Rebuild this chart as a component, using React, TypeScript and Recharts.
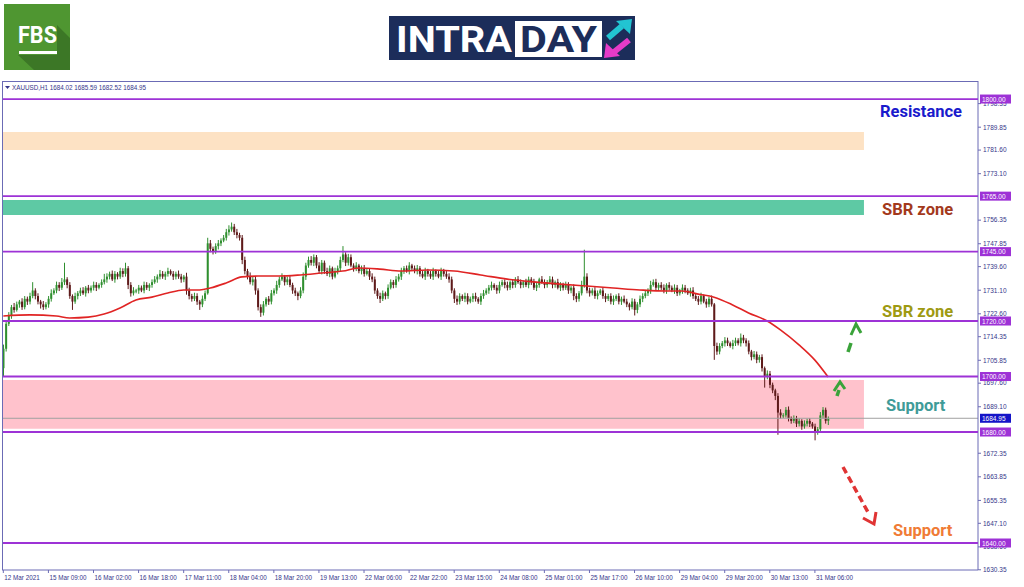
import { ComposedChart, Bar, Line, XAxis, YAxis, ReferenceLine, ReferenceArea } from 'recharts'

// XAUUSD H1 closes, one per bar (12 Mar 2021 -> 31 Mar 2021)
const closes = [
  1710, 1719, 1722, 1725, 1724, 1726, 1727, 1725, 1728, 1727,
  1729, 1731, 1729, 1727, 1726, 1725, 1726, 1728, 1730, 1731,
  1733, 1732, 1734, 1735, 1733, 1729, 1727, 1729, 1730, 1731,
  1730, 1732, 1731, 1732, 1733, 1732, 1733, 1734, 1735, 1736,
  1737, 1735, 1737, 1736, 1738, 1737, 1739, 1733, 1730, 1731,
  1731, 1732, 1731, 1733, 1732, 1733, 1734, 1735, 1736, 1737,
  1736, 1737, 1738, 1737, 1736, 1737, 1736, 1735, 1736, 1731,
  1729, 1728, 1729, 1727, 1726, 1728, 1730, 1748, 1746, 1745,
  1747, 1748, 1749, 1750, 1752, 1753, 1754, 1752, 1751, 1750,
  1742, 1738, 1736, 1734, 1735, 1731, 1725, 1723, 1726, 1728,
  1727, 1730, 1731, 1733, 1735, 1736, 1734, 1735, 1733, 1731,
  1730, 1729, 1731, 1736, 1740, 1742, 1741, 1743, 1740, 1738,
  1741, 1738, 1737, 1739, 1736, 1738, 1739, 1742, 1744, 1741,
  1743, 1740, 1739, 1740, 1738, 1739, 1737, 1738, 1736, 1735,
  1731, 1729, 1728, 1730, 1729, 1732, 1734, 1733, 1735, 1736,
  1738, 1739, 1738, 1740, 1739, 1738, 1739, 1737, 1736, 1738,
  1737, 1736, 1738, 1737, 1736, 1738, 1737, 1736, 1735, 1731,
  1728, 1727, 1729, 1728, 1729, 1727, 1728, 1729, 1728, 1727,
  1729, 1730, 1731, 1732, 1733, 1732, 1731, 1733, 1734, 1733,
  1732, 1734, 1733, 1735, 1734, 1733, 1734, 1733, 1735, 1734,
  1732, 1733, 1735, 1734, 1733, 1734, 1735, 1733, 1734, 1732,
  1733, 1732, 1733, 1731, 1732, 1729, 1728, 1730, 1733, 1736,
  1731, 1730, 1731, 1729, 1730, 1731, 1729, 1728, 1729, 1727,
  1728, 1729, 1727, 1728, 1727, 1726, 1725, 1727, 1724, 1726,
  1728, 1729, 1730, 1731, 1733, 1734, 1732, 1733, 1732, 1731,
  1733, 1732, 1731, 1732, 1730, 1731, 1732, 1731, 1730, 1731,
  1729, 1728, 1727, 1729, 1727, 1726, 1728, 1726, 1711, 1709,
  1711, 1712, 1713, 1712, 1711, 1712, 1713, 1712, 1714, 1713,
  1712, 1709, 1707, 1708, 1706, 1707, 1703, 1700, 1701, 1697,
  1695, 1693, 1687, 1686, 1686, 1688, 1685, 1684, 1685, 1683,
  1684, 1682, 1683, 1684, 1683, 1682, 1680, 1681, 1686, 1688,
  1684.02, 1684.95,
]
const firstOpen = 1703

// wick length above / below the body of each bar
const upperWick = [
  1.5, 1, 1.2, 0.8, 1.5, 1, 0.6, 1.2, 1, 0.8,
  1.2, 3, 0.8, 1, 0.6, 1.2, 0.8, 1, 1.4, 0.8,
  1.2, 1, 1.5, 6, 0.8, 1, 0.6, 1.2, 0.8, 1,
  1.2, 0.6, 1, 0.8, 1.2, 1, 0.6, 1, 2, 1.2,
  0.8, 1.2, 1, 0.6, 1.2, 1, 2, 0.8, 1, 1.2,
  0.6, 1, 0.8, 1.2, 1, 0.6, 1, 1.2, 0.8, 1.4,
  1, 0.8, 1.2, 0.6, 1, 0.8, 1.2, 1, 0.6, 1.4,
  1, 0.8, 1.2, 1, 0.6, 1.2, 1, 2, 1.2, 0.8,
  1, 1.2, 0.8, 1, 1.2, 1.5, 1.5, 1, 1.2, 0.8,
  1, 1.2, 0.8, 1.5, 1, 1.2, 0.8, 1, 1.2, 0.6,
  1, 1.2, 0.8, 1.5, 1, 1.2, 0.6, 1, 1.2, 0.8,
  1, 0.6, 1.2, 1.5, 1, 1.2, 1.4, 1, 0.8, 1.2,
  1, 0.8, 1.2, 1, 0.6, 1.2, 1, 1.2, 3, 0.8,
  1.2, 1, 0.8, 1.2, 0.6, 1, 1.2, 0.8, 1, 1.2,
  1, 0.8, 1.2, 1, 0.6, 1.2, 1, 0.8, 1.2, 1,
  1.2, 0.8, 1, 1.2, 0.6, 1, 1.2, 0.8, 1, 1.2,
  0.8, 1, 1.2, 0.6, 1, 1.2, 0.8, 1, 1.2, 1,
  0.8, 1.2, 1, 0.6, 1.2, 1, 0.8, 1, 1.2, 0.6,
  1, 1.2, 0.8, 1, 1.2, 0.6, 1, 1.2, 0.8, 1,
  1.2, 0.6, 1, 0.8, 1.2, 1, 0.6, 1.2, 1, 0.8,
  1.2, 1, 0.6, 1.2, 1, 0.8, 1.2, 1, 0.6, 1.2,
  1, 0.8, 1.2, 1, 0.6, 1.2, 1, 0.8, 1.5, 9.7,
  1.2, 1, 0.8, 1.2, 1, 0.6, 1.2, 1, 0.8, 1,
  1.2, 0.6, 1, 0.8, 1.2, 1, 0.6, 1.2, 1, 0.8,
  1.2, 1, 1.2, 0.8, 1.5, 1, 1.2, 0.8, 1, 1.2,
  0.6, 1, 0.8, 1.2, 1, 0.6, 1.2, 1, 0.8, 1,
  1.2, 0.8, 1, 1.2, 0.6, 1, 0.8, 1.2, 0.5, 1.2,
  1, 0.8, 1.2, 1, 0.6, 1.2, 1, 0.8, 1.5, 1,
  0.8, 1, 0.6, 1.2, 1, 0.8, 1, 0.6, 1.2, 1,
  0.8, 0.6, 1, 1.2, 0.8, 1, 1.2, 0.6, 1, 0.8,
  1, 0.6, 1.2, 0.8, 1, 0.6, 1, 0.8, 1.2, 1,
  0.8, 0.64,
]
const lowerWick = [
  3, 1, 0.8, 1.2, 1, 0.6, 1.2, 1, 0.8, 1.2,
  1, 0.8, 1.2, 1, 1.5, 1, 0.8, 1.2, 1, 0.6,
  1, 1.2, 0.8, 1, 1.2, 1, 3, 0.8, 1.2, 1,
  0.6, 1.2, 1, 0.8, 1, 1.2, 0.6, 1, 0.8, 1.2,
  1, 0.6, 1.2, 1, 0.8, 1.2, 1, 1.5, 1.2, 0.8,
  1, 1.2, 0.6, 1, 0.8, 1.2, 1, 0.6, 1.2, 1,
  0.8, 1.2, 1, 0.6, 1.2, 1, 0.8, 1.2, 1, 1.5,
  1.2, 1, 0.8, 1.2, 2, 1, 0.8, 0.5, 1.2, 1,
  0.8, 1.2, 1, 0.6, 1, 1.2, 0.8, 1, 1.2, 1,
  1.5, 1.2, 1, 0.8, 1.2, 1.5, 1.2, 1.5, 1, 0.8,
  1.2, 1, 0.8, 1.2, 1, 0.6, 1.2, 1, 0.8, 1.2,
  1, 1.5, 0.8, 1, 1.2, 0.8, 1, 1.2, 1, 0.8,
  1.2, 1, 0.8, 1.2, 1, 0.6, 1.2, 1, 0.8, 1.2,
  1, 0.6, 1.2, 1, 0.8, 1.2, 1, 0.6, 1.2, 1,
  1.2, 1, 1.5, 0.8, 1.2, 1, 0.6, 1.2, 1, 0.8,
  1.2, 1, 0.6, 1.2, 1, 0.8, 1.2, 1, 0.6, 1.2,
  1, 0.8, 1.2, 1, 0.6, 1.2, 1, 0.8, 1.2, 1,
  1.5, 1.2, 1, 0.8, 1.2, 1, 0.6, 1.2, 1, 0.8,
  1.2, 1, 0.6, 1.2, 1, 0.8, 1.2, 1, 0.6, 1.2,
  1, 0.8, 1.2, 1, 0.6, 1.2, 1, 0.8, 1.2, 1,
  0.8, 1.2, 1, 0.6, 1.2, 1, 0.8, 1.2, 1, 0.6,
  1.2, 1, 0.8, 1.2, 1, 1.5, 1.2, 1, 0.8, 1,
  1, 1.2, 0.8, 1, 1.2, 0.6, 1, 1.2, 0.8, 1,
  1.2, 0.8, 1, 1.2, 0.6, 1, 1.2, 0.8, 2, 1.2,
  1, 1.2, 0.8, 1, 1.2, 0.6, 1, 1.2, 0.8, 1,
  1.2, 1, 0.6, 1.2, 1, 0.8, 1.2, 1, 0.6, 1.2,
  1, 0.8, 1.2, 1, 0.6, 1.2, 1, 0.8, 5, 1.2,
  1, 0.8, 1.2, 1, 0.6, 1.2, 1, 0.8, 1.2, 1,
  1.2, 1, 1.2, 0.8, 1.2, 1, 1.2, 4, 1, 1.2,
  1, 1.5, 8, 1.2, 1, 0.8, 1.2, 1, 0.8, 1.2,
  1, 1.2, 0.8, 1, 1.2, 0.8, 3, 1, 0.8, 1.2,
  1, 1.5,
]

// moving average, at these bars
const maBars = [0, 10, 20, 25, 32, 38, 44, 50, 56, 62, 68, 74, 78, 84, 90, 96, 104, 112, 120, 128, 134, 142, 150, 160, 170, 180, 190, 200, 210, 220, 230, 240, 250, 256, 262, 268, 275, 281, 288, 293, 300, 306, 311]
const maValues = [1721.8, 1722.2, 1721.8, 1721.1, 1721.4, 1722.5, 1724.7, 1727.6, 1728.6, 1730.1, 1731.2, 1731.2, 1731.9, 1733.7, 1735.9, 1736.2, 1736.2, 1736.6, 1737.3, 1738.0, 1739.1, 1738.7, 1738.0, 1738.4, 1738.0, 1736.6, 1735.1, 1734.1, 1733.3, 1732.6, 1731.9, 1731.2, 1730.8, 1730.8, 1729.7, 1728.6, 1725.8, 1722.9, 1720.0, 1716.8, 1711.4, 1705.9, 1699.8]

const timeLabels = ['12 Mar 2021', '15 Mar 09:00', '16 Mar 02:00', '16 Mar 18:00', '17 Mar 11:00', '18 Mar 04:00', '18 Mar 20:00', '19 Mar 13:00', '22 Mar 06:00', '22 Mar 22:00', '23 Mar 15:00', '24 Mar 08:00', '25 Mar 01:00', '25 Mar 17:00', '26 Mar 10:00', '29 Mar 04:00', '29 Mar 20:00', '30 Mar 13:00', '31 Mar 06:00']
const LABEL_STEP = 17
const TOTAL_SLOTS = 368 // bars + empty chart shift on the right

const levels = [1800, 1765, 1745, 1720, 1700, 1680, 1640]
const lastPrice = 1684.95
const zoneTops = [1788.1, 1763.6, 1698.7]
const zoneBottoms = [1781.6, 1758.2, 1681.2]
const ZONE_END = 324
const yTicks = [1798.35, 1789.85, 1781.6, 1773.1, 1756.35, 1747.85, 1739.6, 1731.1, 1722.6, 1714.35, 1705.85, 1697.6, 1689.1, 1672.35, 1663.85, 1655.35, 1647.1, 1638.6, 1630.35]
const Y_DOMAIN = [1630.27, 1806.5]

const ZONE_COLORS = ['#fde2c4', '#5ec9a4', '#ffc2cc']
const BULL = '#2f8f2f'
const BEAR = '#5e1a1a'
const MA_COLOR = '#e02424'
const LEVEL = '#9d32d6'
const FRAME = '#6b6bb5'
const AXIS_TEXT = '#36368a'
const AXIS_FONT = '"Liberation Sans", Arial, sans-serif'
const MARGIN = { top: 81, right: 0, bottom: 0, left: 2 }

const rows = Array.from({ length: TOTAL_SLOTS }, (_, i) => {
  const row: any = { i }
  if (i < closes.length) {
    const open = i === 0 ? firstOpen : closes[i - 1]
    const close = closes[i]
    const high = Math.max(open, close) + upperWick[i]
    const low = Math.min(open, close) - lowerWick[i]
    Object.assign(row, { open, close, high, low, range: [low, high] })
  }
  const k = maBars.indexOf(i)
  if (k >= 0) row.ma = maValues[k]
  return row
})
const lastBar = rows[closes.length - 1]

function Candle(props: any) {
  const { x, y, width, height, payload } = props
  if (!payload || payload.close == null) return null
  const { open, close, high, low } = payload
  const top = Math.min(y, y + height)
  const h = Math.abs(height)
  const ppu = h / (high - low)
  const cx = x + width / 2
  const bTop = top + (high - Math.max(open, close)) * ppu
  const bBot = top + (high - Math.min(open, close)) * ppu
  const color = close >= open ? BULL : BEAR
  return (
    <g>
      <line x1={cx} x2={cx} y1={top} y2={top + h} stroke={color} strokeWidth={1} />
      <rect x={cx - 1} y={bTop} width={2} height={Math.max(1, bBot - bTop)} fill={color} />
    </g>
  )
}

function TimeTick(props: any) {
  const { x, y, payload } = props
  const label = timeLabels[payload.value / LABEL_STEP]
  if (!label) return null
  return (
    <g>
      <line x1={x} x2={x} y1={y - 3} y2={y} stroke={FRAME} />
      <text x={x + 1} y={y + 7} fontSize={6.3} fill={AXIS_TEXT} fontFamily={AXIS_FONT}>
        {label}
      </text>
    </g>
  )
}

function PriceTag({ viewBox, value, color }: any) {
  if (!viewBox) return null
  const x = viewBox.x + viewBox.width + 2
  const y = viewBox.y
  return (
    <g>
      <rect x={x} y={y - 4.5} width={31} height={9} fill={color} />
      <text x={x + 2} y={y + 2.5} fontSize={6.5} fill="#fff" fontFamily={AXIS_FONT}>
        {value.toFixed(2)}
      </text>
    </g>
  )
}

function FbsLogo() {
  return (
    <svg width={66} height={66} style={{ position: 'absolute', left: 4, top: 4 }}>
      <rect width={66} height={66} fill="#4f9631" />
      <polygon points="53,21 66,34 66,66 30,66 14,51 53,51" fill="#3c7726" />
      <text x={14} y={39} fontSize={23} fontWeight={700} fill="#fff" fontFamily="Roboto, sans-serif" textLength={39} lengthAdjust="spacingAndGlyphs">
        FBS
      </text>
      <rect x={15} y={47} width={38} height={3} fill="#fff" />
    </svg>
  )
}

function IntradayLogo() {
  return (
    <svg width={246} height={44} style={{ position: 'absolute', left: 389, top: 16 }}>
      <rect width={246} height={44} fill="#1c2d5a" />
      <text x={7} y={36} fontSize={36} fontWeight={700} fill="#fff" fontFamily="Roboto, sans-serif" textLength={116} lengthAdjust="spacingAndGlyphs">
        INTRA
      </text>
      <rect x={126} y={5} width={87} height={36} fill="#fff" />
      <text x={131} y={36} fontSize={36} fontWeight={700} fill="#1c2d5a" fontFamily="Roboto, sans-serif" textLength={77} lengthAdjust="spacingAndGlyphs">
        DAY
      </text>
      <line x1={219} y1={22} x2={233} y2={10} stroke="#22c4d2" strokeWidth={6} />
      <polygon points="243,3 227,5 241,18" fill="#22c4d2" />
      <line x1={240} y1={24} x2={225} y2={36} stroke="#e63bc8" strokeWidth={6} />
      <polygon points="215,42 231,40 217,27" fill="#e63bc8" />
    </svg>
  )
}

const notes = [
  { text: 'Resistance', x: 880, y: 117, color: '#1a1acc' },
  { text: 'SBR zone', x: 882, y: 215, color: '#a3391c' },
  { text: 'SBR zone', x: 882, y: 317, color: '#9e9a12' },
  { text: 'Support', x: 886, y: 411, color: '#3f9b98' },
  { text: 'Support', x: 893, y: 536, color: '#f07b35' },
]

function Annotations() {
  return (
    <svg width={1024} height={587} style={{ position: 'absolute', left: 0, top: 0, pointerEvents: 'none' }}>
      {notes.map((n, k) => (
        <text key={k} x={n.x} y={n.y} fontSize={16.5} fontWeight={700} fill={n.color} fontFamily="Roboto, sans-serif">
          {n.text}
        </text>
      ))}
      {/* green up arrows */}
      <line x1={848} y1={352} x2={851} y2={343} stroke="#3aa33a" strokeWidth={3.5} />
      <polyline points="851,335 856,324 861,333" fill="none" stroke="#3aa33a" strokeWidth={3} />
      <line x1={837} y1={396} x2={839} y2={390} stroke="#3aa33a" strokeWidth={3.5} />
      <polyline points="834,391 840,382 845,389" fill="none" stroke="#3aa33a" strokeWidth={3} />
      {/* red down arrow */}
      <line x1={843} y1={467} x2={869} y2={514} stroke="#e03434" strokeWidth={3.5} strokeDasharray="7 4" />
      <polyline points="863,518 874,524 876,512" fill="none" stroke="#e03434" strokeWidth={3} />
      {/* header */}
      <polygon points="5,86 10,86 7.5,89" fill={AXIS_TEXT} />
      <text x={12} y={90} fontSize={6.3} fill={AXIS_TEXT} fontFamily={AXIS_FONT}>
        {`XAUUSD,H1  ${lastBar.open.toFixed(2)} ${lastBar.high.toFixed(2)} ${lastBar.low.toFixed(2)} ${lastBar.close.toFixed(2)}`}
      </text>
    </svg>
  )
}

// second chart with the same scales, drawn on top, so the level tags cover the axis ticks
function LevelsLayer() {
  return (
    <div style={{ position: 'absolute', left: 0, top: 0, pointerEvents: 'none' }}>
      <ComposedChart width={1024} height={587} data={rows} margin={MARGIN}>
        <XAxis dataKey="i" height={17} tick={false} tickLine={false} axisLine={false} />
        <YAxis orientation="right" width={46} type="number" domain={Y_DOMAIN} allowDataOverflow tick={false} tickLine={false} axisLine={false} />
        {levels.map((lvl) => (
          <ReferenceLine
            key={lvl}
            y={lvl}
            stroke={LEVEL}
            strokeWidth={1.8}
            label={(p: any) => <PriceTag viewBox={p.viewBox} value={lvl} color={LEVEL} />}
          />
        ))}
        <ReferenceLine
          y={lastPrice}
          stroke="none"
          label={(p: any) => <PriceTag viewBox={p.viewBox} value={lastPrice} color="#1414c8" />}
        />
      </ComposedChart>
    </div>
  )
}

export default function App() {
  return (
    <div style={{ position: 'relative', width: 1024, height: 587, background: '#fff', overflow: 'hidden' }}>
      <style>{'body{margin:0}'}</style>
      <ComposedChart width={1024} height={587} data={rows} margin={MARGIN} barCategoryGap={0} barGap={0}>
        <XAxis
          dataKey="i"
          interval={LABEL_STEP - 1}
          height={17}
          tickSize={3}
          tickMargin={0}
          tickLine={false}
          axisLine={{ stroke: FRAME }}
          tick={<TimeTick />}
        />
        <YAxis
          orientation="right"
          width={46}
          type="number"
          domain={Y_DOMAIN}
          allowDataOverflow
          ticks={yTicks}
          interval={0}
          tickSize={3}
          tickMargin={2}
          tickLine={{ stroke: FRAME }}
          axisLine={{ stroke: FRAME }}
          tickFormatter={(v: number) => v.toFixed(2)}
          tick={{ fontSize: 6.5, fill: AXIS_TEXT, fontFamily: AXIS_FONT }}
        />
        {zoneTops.map((top, k) => (
          <ReferenceArea key={k} x1={0} x2={ZONE_END} y1={zoneBottoms[k]} y2={top} fill={ZONE_COLORS[k]} fillOpacity={1} stroke="none" />
        ))}
        <ReferenceLine y={lastPrice} stroke="#a0a0a0" strokeWidth={1} />
        <Bar dataKey="range" shape={(p: any) => <Candle {...p} />} isAnimationActive={false} />
        <Line dataKey="ma" type="monotone" stroke={MA_COLOR} strokeWidth={1.6} dot={false} connectNulls isAnimationActive={false} />
      </ComposedChart>
      <LevelsLayer />
      <div
        style={{
          position: 'absolute',
          left: 2,
          top: 81,
          width: 976,
          height: 489,
          borderLeft: `1px solid ${FRAME}`,
          borderTop: `1px solid ${FRAME}`,
          boxSizing: 'border-box',
          pointerEvents: 'none',
        }}
      />
      <FbsLogo />
      <IntradayLogo />
      <Annotations />
    </div>
  )
}
